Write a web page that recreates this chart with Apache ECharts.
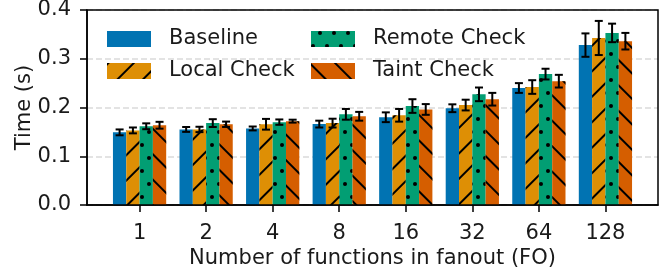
<!DOCTYPE html>
<html>
<head>
<meta charset="utf-8">
<script src="https://cdn.jsdelivr.net/npm/echarts@6/dist/echarts.min.js"></script>
<style>
html,body{margin:0;padding:0;background:#fff;}
#chart{width:665px;height:270px;}
</style>
</head>
<body>
<div id="chart"></div>
<script>
var fanout=['1','2','4','8','16','32','64','128'];
var yTicks=[0,0.1,0.2,0.3,0.4];
var baseline=[0.149,0.155,0.157,0.166,0.180,0.1985,0.240,0.328];
var baselineErr=[0.006,0.005,0.004,0.007,0.010,0.008,0.010,0.024];
var localCheck=[0.153,0.155,0.1656,0.168,0.184,0.205,0.242,0.3426];
var localErr=[0.006,0.0055,0.011,0.009,0.013,0.011,0.014,0.035];
var remoteCheck=[0.1615,0.168,0.170,0.186,0.203,0.227,0.2685,0.353];
var remoteErr=[0.006,0.008,0.0055,0.011,0.014,0.014,0.011,0.019];
var taintCheck=[0.1636,0.1656,0.172,0.182,0.196,0.217,0.254,0.336];
var taintErr=[0.007,0.0055,0.003,0.009,0.011,0.013,0.013,0.017];

var font='DejaVu Sans';
var xMin=-0.79,xMax=7.79;
var gridBox={left:87,right:7,top:10,bottom:65};
var chart=echarts.init(document.getElementById('chart'));

var groups=[
    {name:'Baseline',data:baseline,err:baselineErr,color:'#0173b2',decal:null},
    {name:'Local Check',data:localCheck,err:localErr,color:'#de8f05',
     decal:{symbol:'rect',color:'#000',dashArrayX:[1,0],dashArrayY:[1.6,16],rotation:-Math.PI/4}},
    {name:'Remote Check',data:remoteCheck,err:remoteErr,color:'#029e73',
     decal:{symbol:'circle',color:'#000',symbolSize:1,dashArrayX:[[4,9.3],[0,6.65,4,2.65]],dashArrayY:[4,8.8]}},
    {name:'Taint Check',data:taintCheck,err:taintErr,color:'#d55e00',
     decal:{symbol:'rect',color:'#000',dashArrayX:[1,0],dashArrayY:[1.6,16],rotation:Math.PI/4}}
];
var barW=0.2;

var series=[];
groups.forEach(function(g,k){
    var style={color:g.color};
    if(g.decal) style.decal=g.decal;
    series.push({
        name:g.name,
        type:'bar',
        barWidth:'20%',
        barGap:'0%',
        data:g.data.map(function(v,i){return [i,v];}),
        itemStyle:style,
        emphasis:{disabled:true}
    });
});
groups.forEach(function(g,k){
    series.push({
        type:'custom',
        z:5,
        silent:true,
        data:g.data.map(function(v,i){return [i,v-g.err[i],v+g.err[i]];}),
        renderItem:function(params,api){
            var x=api.value(0)+(k-1.5)*barW;
            var lo=api.coord([x,api.value(1)]);
            var hi=api.coord([x,api.value(2)]);
            var st={stroke:'#000',lineWidth:2};
            return {type:'group',children:[
                {type:'line',shape:{x1:lo[0],y1:lo[1],x2:hi[0],y2:hi[1]},style:st},
                {type:'line',shape:{x1:lo[0]-4,y1:lo[1],x2:lo[0]+4,y2:lo[1]},style:st},
                {type:'line',shape:{x1:hi[0]-4,y1:hi[1],x2:hi[0]+4,y2:hi[1]},style:st}
            ]};
        }
    });
});

function legendAt(left,names){
    return {
        orient:'vertical',
        left:left,
        top:27,
        padding:0,
        itemWidth:44,
        itemHeight:16,
        itemGap:8,
        icon:'rect',
        selectedMode:false,
        data:names,
        textStyle:{fontFamily:font,fontSize:21,color:'#1a1a1a',lineHeight:24,padding:[0,0,0,13]}
    };
}

var W=chart.getWidth(),H=chart.getHeight();

var option={
    animation:false,
    grid:{left:gridBox.left,right:gridBox.right,top:gridBox.top,bottom:gridBox.bottom,outerBoundsMode:'none',containLabel:false},
    legend:[legendAt(107,['Baseline','Local Check']),legendAt(311,['Remote Check','Taint Check'])],
    graphic:[{
        type:'rect',
        z:100,
        silent:true,
        shape:{x:gridBox.left,y:gridBox.top,width:W-gridBox.left-gridBox.right,height:H-gridBox.top-gridBox.bottom},
        style:{fill:'rgba(0,0,0,0)',stroke:'#000000',lineWidth:1.5}
    }],
    xAxis:{
        type:'value',
        min:xMin,
        max:xMax,
        name:'Number of functions in fanout (FO)',
        nameLocation:'middle',
        nameGap:43,
        nameMoveOverlap:false,
        nameTextStyle:{fontFamily:font,fontSize:21,color:'#1a1a1a'},
        axisLine:{show:true,onZero:false,lineStyle:{color:'#000',width:1.5}},
        splitLine:{show:false},
        axisTick:{show:true,length:7,lineStyle:{color:'#000',width:1.5},customValues:fanout.map(function(f,i){return i;})},
        axisLabel:{fontFamily:font,fontSize:21,color:'#1a1a1a',margin:18,
            customValues:fanout.map(function(f,i){return i;}),
            formatter:function(v){return fanout[Math.round(v)];}}
    },
    yAxis:{
        type:'value',
        min:yTicks[0],
        max:yTicks[yTicks.length-1],
        interval:0.1,
        name:'Time (s)',
        nameLocation:'middle',
        nameGap:52,
        nameMoveOverlap:false,
        nameTextStyle:{fontFamily:font,fontSize:21,color:'#1a1a1a'},
        axisLine:{show:true,onZero:false,lineStyle:{color:'#000',width:1.5}},
        axisTick:{show:true,length:7,lineStyle:{color:'#000',width:1.5}},
        axisLabel:{fontFamily:font,fontSize:21,color:'#1a1a1a',margin:16,formatter:function(v){return v.toFixed(1);}},
        splitLine:{show:true,lineStyle:{color:'rgba(170,170,170,0.45)',type:[6,3],width:1.5}}
    },
    series:series
};
chart.setOption(option);
</script>
</body>
</html>
